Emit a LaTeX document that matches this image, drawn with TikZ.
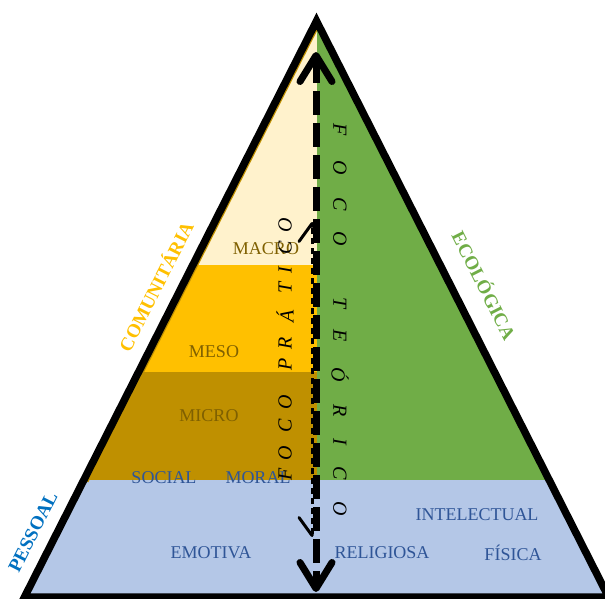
\documentclass[tikz,border=0pt]{standalone}
\usepackage{fontspec}
\setmainfont{Liberation Serif}
\usetikzlibrary{arrows.meta}
\definecolor{bandblue}{HTML}{B4C7E7}
\definecolor{ecogreen}{HTML}{70AD47}
\definecolor{cream}{HTML}{FFF2CC}
\definecolor{gold}{HTML}{FFC000}
\definecolor{darkgold}{HTML}{BF9000}
\definecolor{brownlbl}{HTML}{7F6000}
\definecolor{bluelbl}{HTML}{2F5597}
\definecolor{pessoalblue}{HTML}{0070C0}
\tikzset{
  lvl/.style={inner sep=0pt, font=\fontsize{18}{18}\selectfont},
  brownlvl/.style={lvl, text=brownlbl},
  bluelvl/.style={lvl, text=bluelbl},
  sidelbl/.style={inner sep=0pt, font=\bfseries\fontsize{19}{19}\selectfont},
  focoletter/.style={inner sep=0pt, font=\itshape\fontsize{20}{20}\selectfont},
  thickarrow/.style={line width=7pt, dash pattern=on 24pt off 8pt,
    {Straight Barb[length=26pt,width=32pt,round]}-{Straight Barb[length=26pt,width=32pt,round]}},
  thinarrow/.style={line width=3pt, dash pattern=on 6pt off 4pt,
    {Straight Barb[length=18pt,width=26pt,round,harpoon,swap]}-{Straight Barb[length=18pt,width=26pt,round,harpoon]}}
}
\begin{document}
\begin{tikzpicture}[x=1pt,y=-1pt]
\useasboundingbox (0,0) rectangle (605,598);
\coordinate (A) at (316.5,21);
\coordinate (BL) at (24.5,597);
\coordinate (BR) at (608.5,597);
\coordinate (L480) at (83.8,480);
\begin{scope}
  \clip (A) -- (BL) -- (BR) -- cycle;
  \fill[cream] (0,0) rectangle (317,265);
  \fill[gold] (0,265) rectangle (317,372);
  \fill[darkgold] (0,372) rectangle (317,480);
  \fill[ecogreen] (317,0) rectangle (620,480);
  \fill[bandblue] (0,480) rectangle (620,600);
  \draw[darkgold, line width=10pt] (A) -- (L480);
\end{scope}
\draw[line width=7.5pt] (A) -- (BL) -- (BR) -- cycle;

% level labels
\node[brownlvl] (macro) at (266,249) {MACRO};
\node[brownlvl] (meso) at (214,352) {MESO};
\node[brownlvl] (micro) at (209,416) {MICRO};
\node[bluelvl] (social) at (164,478) {SOCIAL};
\node[bluelvl] (moral) at (258,478) {MORAL};
\node[bluelvl] (intel) at (477,515) {INTELECTUAL};
\node[bluelvl] (emot) at (211,553) {EMOTIVA};
\node[bluelvl] (relig) at (382,553) {RELIGIOSA};
\node[bluelvl] (fisica) at (513,553) {FÍSICA};

% side labels
\node[sidelbl, text=gold, rotate=63.1] (comun) at (155,286) {COMUNITÁRIA};
\node[sidelbl, text=ecogreen, rotate=-63.1] (ecol) at (485,285) {ECOLÓGICA};
\node[sidelbl, text=pessoalblue, rotate=63.1] (pess) at (33,532) {PESSOAL};

% arrows
\coordinate (pt) at (312,222);
\coordinate (pb) at (312,537);
\coordinate (tt) at (316,52);
\coordinate (tb) at (316,592);
\draw[thinarrow] (pb) -- (pt);
\draw[thickarrow] (tt) -- (tb);

% FOCO TEORICO
\foreach \ch/\yy [count=\i] in {F/130,O/168,C/204,O/239,T/303,E/336,Ó/375,R/411,I/442,C/473,O/509}
  \node[focoletter, rotate=-90] (teo\i) at (340,\yy) {\ch};
% FOCO PRATICO
\foreach \ch/\yy [count=\i] in {F/474,O/453,C/426,O/402,P/364,R/343,Á/316,T/288,I/270,C/248,O/225}
  \node[focoletter, rotate=90] (pra\i) at (285,\yy) {\ch};
\end{tikzpicture}
\end{document}
